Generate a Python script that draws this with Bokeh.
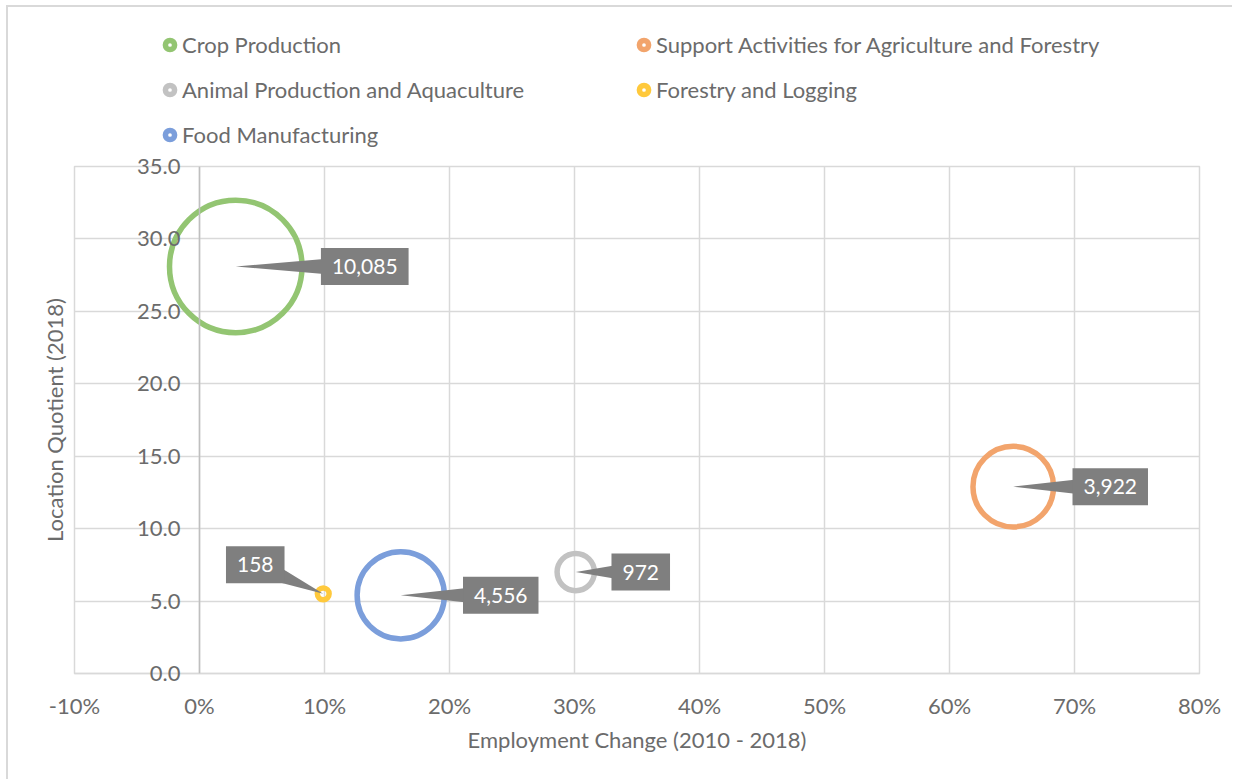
import math
from bokeh.plotting import figure
from bokeh.layouts import column
from bokeh.models import (ColumnDataSource, Legend, LegendItem, Range1d, Span,
                          NumeralTickFormatter, FixedTicker)
from bokeh.core.properties import value
from bokeh.embed import file_html
from bokeh.resources import INLINE

# ---------------- data ----------------
industries = [
    "Crop Production",
    "Support Activities for Agriculture and Forestry",
    "Animal Production and Aquaculture",
    "Forestry and Logging",
    "Food Manufacturing",
]
employment_change = [0.029, 0.651, 0.301, 0.099, 0.161]   # 2010 - 2018
location_quotient = [28.1, 12.9, 7.0, 5.5, 5.4]           # 2018
employment = [10085, 3922, 972, 158, 4556]                # bubble size / label
x_ticks = [-0.1, 0.0, 0.1, 0.2, 0.3, 0.4, 0.5, 0.6, 0.7, 0.8]
y_ticks = [0, 5, 10, 15, 20, 25, 30, 35]

# ---------------- styles ----------------
colors = ["#93C572", "#F2A46C", "#C2C2C2", "#FFC93C", "#7B9EDB"]
# label offsets from bubble centre, screen px (right, down)
label_dx = [129, 97, 65, -68, 100]
label_dy = [0, 0, 0, -29, 0]

FONT = "Lato"
FS = "22px"
TXT = "#6b6b6b"
GRID = "#d9d9d9"
W = 1226
LEG_H = 141
H = 633
BL, BR, BT, BB = 66, 35, 18, 108
MAX_D = 138      # outer diameter of the largest bubble, px
LW = 5.5

XR = (-0.1, 0.8)
YR = (0.0, 35.0)
ppx = (W - BL - BR) / (XR[1] - XR[0])
ppy = (H - BT - BB) / (YR[1] - YR[0])

vmax = max(employment)
sizes = [MAX_D * math.sqrt(v / vmax) - LW for v in employment]
labels = [f"{v:,}" for v in employment]

# pointer wedges (tip at bubble centre, base at label centre)
wx, wy = [], []
for x, y, dx, dy in zip(employment_change, location_quotient, label_dx, label_dy):
    L = math.hypot(dx, dy)
    nx, ny = -dy / L * 11, dx / L * 11
    wx.append([x, x + (dx + nx) / ppx, x + (dx - nx) / ppx])
    wy.append([y, y - (dy + ny) / ppy, y - (dy - ny) / ppy])

src = ColumnDataSource(dict(x=employment_change, y=location_quotient, size=sizes,
                            color=colors, name=industries, label=labels,
                            dx=label_dx, dy=label_dy))

# ---------------- main plot ----------------
p = figure(width=W, height=H, output_backend="svg", toolbar_location=None,
           x_range=Range1d(*XR), y_range=Range1d(*YR),
           min_border_left=BL, min_border_right=BR, min_border_top=BT, min_border_bottom=BB,
           background_fill_color="white", border_fill_color="white")
p.outline_line_color = GRID
p.outline_line_width = 1.5

xa = p.xaxis[0]
xa.ticker = FixedTicker(ticks=x_ticks)
xa.formatter = NumeralTickFormatter(format="0%")
xa.axis_label = "Employment Change (2010 - 2018)"
xa.axis_line_color = GRID
xa.axis_line_width = 1.5
xa.major_tick_line_color = None
xa.minor_tick_line_color = None
xa.major_tick_out = 0
xa.major_tick_in = 0
xa.major_label_standoff = 18
xa.axis_label_standoff = 4

# y tick labels drawn next to the x = 0 crossing line
ya = p.yaxis[0]
ya.ticker = FixedTicker(ticks=y_ticks)
ya.formatter = NumeralTickFormatter(format="0.0")
ya.axis_label = "Location Quotient (2018)"
ya.axis_line_color = None
ya.major_tick_line_color = None
ya.minor_tick_line_color = None
ya.major_tick_out = 0
ya.major_tick_in = 0
ya.major_label_standoff = -106
ya.axis_label_standoff = 66

for ax in (xa, ya):
    ax.major_label_text_font = FONT
    ax.major_label_text_font_size = FS
    ax.major_label_text_color = TXT
    ax.axis_label_text_font = FONT
    ax.axis_label_text_font_size = FS
    ax.axis_label_text_font_style = "normal"
    ax.axis_label_text_color = TXT

p.xgrid.ticker = FixedTicker(ticks=x_ticks)
p.ygrid.ticker = FixedTicker(ticks=y_ticks)
for g in (p.xgrid, p.ygrid):
    g.grid_line_color = GRID
    g.grid_line_width = 1.5

p.add_layout(Span(location=0, dimension="height", line_color="#bfbfbf", line_width=1.5))

r = p.scatter("x", "y", size="size", source=src, fill_color="white", fill_alpha=0.0,
              line_color="color", line_width=LW)

p.patches(wx, wy, fill_color="#7f7f7f", line_color=None)
p.text("x", "y", text="label", source=src, x_offset="dx", y_offset="dy",
       anchor="center", text_align="center", text_baseline="middle",
       text_color="white", text_font=value(FONT), text_font_size="21px",
       background_fill_color="#7f7f7f", padding=(11, 11))

# ---------------- legend strip ----------------
leg = figure(width=W, height=LEG_H, output_backend="svg", toolbar_location=None,
             x_range=Range1d(0, 1), y_range=Range1d(-2, -1),
             x_axis_type=None, y_axis_type=None,
             min_border_left=0, min_border_right=0, min_border_top=0, min_border_bottom=0,
             background_fill_color="white", border_fill_color="white")
leg.outline_line_color = None
leg.grid.visible = False
# proxy renderer (same data, outside the strip's view) for the legend glyphs
lr = leg.scatter("x", "y", size="size", source=src, fill_color="white",
                 line_color="color", line_width=LW)

items = [LegendItem(label=n, renderers=[lr], index=i) for i, n in enumerate(industries)]
legend = Legend(items=items, orientation="horizontal", ncols=2,
                location=(84, 0), padding=0, margin=0, spacing=18,
                glyph_width=23, glyph_height=23, label_standoff=1,
                label_width=432, label_height=23,
                label_text_font=FONT, label_text_font_size=FS, label_text_color=TXT,
                border_line_color=None, background_fill_alpha=0.0)
leg.add_layout(legend)

layout = column(leg, p, spacing=0, margin=(7, 0, 0, 8),
                styles={"box-shadow": "-2px -2px 0 0 #d9d9d9"})

open("out.html", "w").write(file_html(layout, INLINE))
